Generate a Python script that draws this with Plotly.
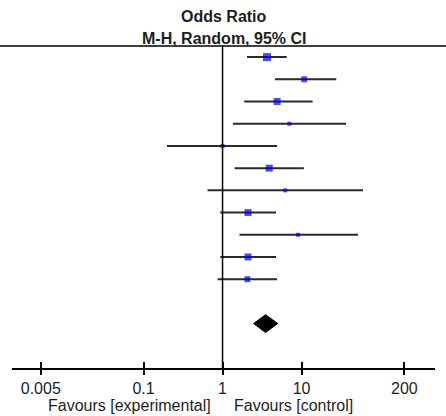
import plotly.graph_objects as go

# Study-level odds ratios and 95% CIs
or_est = [3.65, 10.8, 4.9, 7.0, 1.0, 3.9, 6.2, 2.1, 9.0, 2.1, 2.06]
ci_low = [2.04, 4.6, 1.88, 1.35, 0.198, 1.42, 0.646, 0.935, 1.64, 0.935, 0.865]
ci_high = [6.5, 27.5, 13.8, 36.5, 4.9, 10.7, 60.0, 4.75, 52.0, 4.75, 4.9]
weight_size = [8, 6, 7, 4, 4, 7, 4, 7, 4, 7, 6]  # marker size ~ study weight

# Pooled estimate (diamond)
pooled_est = 3.5
pooled_low = 2.47
pooled_high = 5.0

tick_vals = [0.005, 0.1, 1, 10, 200]
tick_text = ["0.005", "0.1", "1", "10", "200"]

rows = list(range(len(or_est)))
pooled_row = len(or_est) + 1
diamond_half = 0.4

FONT = "Liberation Sans, Arial, sans-serif"
TXT = "#1e1e1e"

fig = go.Figure()

fig.add_trace(go.Scatter(
    x=or_est, y=rows, mode="markers",
    marker=dict(symbol="square", size=weight_size, color="#0000ee", line=dict(width=0)),
    error_x=dict(type="data", symmetric=False,
                 array=[h - e for h, e in zip(ci_high, or_est)],
                 arrayminus=[e - l for e, l in zip(or_est, ci_low)],
                 color="#2a2a2a", thickness=2, width=0),
    hoverinfo="skip", showlegend=False,
))

fig.add_trace(go.Scatter(
    x=[pooled_low, pooled_est, pooled_high, pooled_est, pooled_low],
    y=[pooled_row, pooled_row - diamond_half, pooled_row, pooled_row + diamond_half, pooled_row],
    mode="lines", fill="toself", fillcolor="black",
    line=dict(color="black", width=1), hoverinfo="skip", showlegend=False,
))

# invisible trace on the overlay axis (for inner tick marks)
fig.add_trace(go.Scatter(
    x=or_est, y=rows, xaxis="x2", mode="markers",
    marker=dict(opacity=0), hoverinfo="skip", showlegend=False,
))

xr = [-2.665, 2.689]
fig.update_layout(
    width=446, height=416,
    margin=dict(l=12, r=11, t=46, b=48),
    paper_bgcolor="white", plot_bgcolor="white",
    font=dict(family=FONT, size=16, color=TXT),
    xaxis=dict(type="log", range=xr, tickvals=tick_vals, ticktext=tick_text,
               ticks="outside", ticklen=5, tickwidth=1.5, tickcolor="black",
               showline=True, linecolor="black", linewidth=1.5,
               showgrid=False, zeroline=False,
               tickfont=dict(family=FONT, size=16, color=TXT)),
    xaxis2=dict(type="log", range=xr, tickvals=tick_vals, overlaying="x", anchor="y",
                side="bottom", ticks="inside", ticklen=6, tickwidth=1.5, tickcolor="black",
                showticklabels=False, showline=False, showgrid=False, zeroline=False),
    yaxis=dict(range=[14, -0.5], visible=False, showgrid=False, zeroline=False),
)

# null line at OR = 1
fig.add_shape(type="line", xref="x", yref="paper", x0=1, x1=1, y0=0, y1=1,
              line=dict(color="black", width=1.5))
# header rule across the full width
fig.add_shape(type="line", xref="paper", yref="paper", x0=-0.03, x1=1.03, y0=1, y1=1,
              line=dict(color="black", width=1.5))

fig.add_annotation(text="<b>Odds Ratio</b>", xref="paper", yref="paper", x=0.5, y=1,
                   yanchor="middle", yshift=30, showarrow=False,
                   font=dict(family=FONT, size=16, color=TXT))
fig.add_annotation(text="<b>M-H, Random, 95% CI</b>", xref="paper", yref="paper", x=0.5, y=1,
                   yanchor="middle", yshift=8, showarrow=False,
                   font=dict(family=FONT, size=16, color=TXT))
fig.add_annotation(text="Favours [experimental]", xref="x", yref="paper", x=0, y=0,
                   xanchor="right", yanchor="middle", xshift=-10, yshift=-37, showarrow=False,
                   font=dict(family=FONT, size=16, color=TXT))
fig.add_annotation(text="Favours [control]", xref="x", yref="paper", x=0, y=0,
                   xanchor="left", yanchor="middle", xshift=9, yshift=-37, showarrow=False,
                   font=dict(family=FONT, size=16, color=TXT))

fig.write_html("out.html", config={"displayModeBar": False},
               post_script="document.body.style.margin='0';document.body.style.padding='0';")
